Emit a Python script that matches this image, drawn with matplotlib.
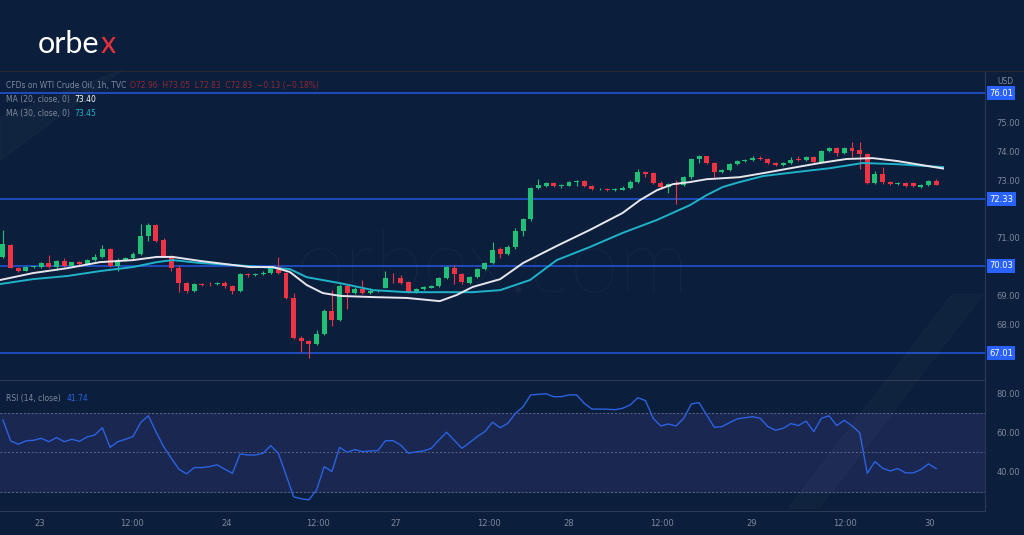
import numpy as np
import matplotlib.pyplot as plt
from matplotlib.patches import Polygon

# hourly WTI candles
opens = [70.34, 70.75, 69.96, 69.87, 69.99, 70.00, 70.13, 70.00, 70.20, 70.04, 70.15, 70.08, 70.23, 70.34, 70.61,
         70.02, 70.23, 70.30, 70.44, 71.06, 71.44, 70.92, 70.37, 69.96, 69.44, 69.16, 69.40, 69.42, 69.39, 69.45,
         69.33, 69.17, 69.75, 69.70, 69.75, 69.79, 69.99, 69.79, 68.92, 67.53, 67.43, 67.33, 67.67, 68.47, 68.16,
         69.33, 69.09, 69.23, 69.10, 69.15, 69.28, 69.61, 69.61, 69.47, 69.13, 69.23, 69.27, 69.33, 69.61, 69.96,
         69.75, 69.45, 69.64, 69.92, 70.12, 70.61, 70.44, 70.68, 71.24, 71.65, 72.72, 72.79, 72.90, 72.80, 72.80,
         72.93, 72.97, 72.80, 72.68, 72.69, 72.67, 72.67, 72.74, 72.93, 73.27, 73.24, 72.90, 72.76, 72.88, 72.83,
         73.10, 73.72, 73.82, 73.59, 73.28, 73.34, 73.55, 73.66, 73.70, 73.77, 73.72, 73.60, 73.53, 73.60, 73.72,
         73.68, 73.80, 73.64, 74.00, 74.10, 73.93, 74.10, 74.04, 73.90, 72.90, 73.21, 72.93, 72.86, 72.90, 72.90,
         72.76, 72.83, 72.96]
closes = [70.79, 69.96, 69.85, 69.99, 70.00, 70.13, 70.00, 70.20, 70.04, 70.15, 70.08, 70.23, 70.34, 70.61, 70.02,
          70.23, 70.30, 70.44, 71.06, 71.44, 70.89, 70.37, 69.96, 69.44, 69.16, 69.40, 69.38, 69.39, 69.45, 69.33,
          69.17, 69.75, 69.70, 69.75, 69.79, 69.99, 69.79, 68.92, 67.53, 67.43, 67.33, 67.67, 68.47, 68.16, 69.33,
          69.09, 69.23, 69.10, 69.15, 69.16, 69.61, 69.60, 69.43, 69.13, 69.23, 69.30, 69.33, 69.61, 69.99, 69.75,
          69.47, 69.64, 69.92, 70.12, 70.58, 70.44, 70.68, 71.24, 71.65, 72.72, 72.82, 72.90, 72.80, 72.83, 72.93,
          72.97, 72.80, 72.68, 72.68, 72.66, 72.67, 72.74, 72.93, 73.27, 73.20, 72.90, 72.76, 72.86, 72.83, 73.10,
          73.72, 73.82, 73.59, 73.28, 73.34, 73.55, 73.66, 73.70, 73.77, 73.72, 73.60, 73.53, 73.60, 73.70, 73.68,
          73.80, 73.64, 74.00, 74.10, 73.93, 74.10, 74.00, 73.90, 72.90, 73.21, 72.93, 72.86, 72.90, 72.80, 72.80,
          72.83, 72.96, 72.83]
highs = [71.27, 70.80, 69.98, 70.02, 70.04, 70.17, 70.40, 70.22, 70.30, 70.18, 70.20, 70.26, 70.45, 70.75, 70.64,
         70.30, 70.35, 70.50, 71.48, 71.52, 71.48, 71.00, 70.40, 70.05, 69.48, 69.45, 69.43, 69.46, 69.48, 69.49,
         69.36, 69.78, 69.80, 69.78, 69.84, 70.03, 70.33, 69.82, 69.10, 67.60, 67.48, 67.82, 68.55, 69.20, 69.40,
         69.40, 69.30, 69.55, 69.25, 69.20, 69.85, 69.80, 69.72, 69.50, 69.27, 69.33, 69.36, 69.65, 70.04, 70.05,
         69.80, 69.68, 69.96, 70.18, 70.85, 70.70, 70.75, 71.35, 71.70, 72.76, 73.05, 72.95, 72.93, 72.86, 72.96,
         73.00, 73.00, 72.83, 72.72, 72.72, 72.72, 72.79, 73.01, 73.40, 73.33, 73.28, 72.98, 72.90, 73.00, 73.14,
         73.76, 73.86, 73.85, 73.62, 73.37, 73.60, 73.70, 73.73, 73.85, 73.85, 73.75, 73.63, 73.64, 73.80, 73.85,
         73.85, 73.83, 74.03, 74.14, 74.13, 74.13, 74.32, 74.32, 73.95, 73.30, 73.45, 72.96, 72.93, 72.93, 72.93,
         72.86, 72.99, 73.05]
lows = [70.30, 69.96, 69.82, 69.85, 69.96, 69.97, 69.97, 69.90, 70.00, 70.01, 70.05, 70.05, 70.20, 70.30, 69.98,
        69.85, 70.20, 70.27, 70.40, 70.90, 70.85, 70.33, 69.85, 69.12, 69.10, 69.12, 69.35, 69.33, 69.36, 69.25,
        69.05, 69.14, 69.65, 69.68, 69.72, 69.76, 69.76, 68.88, 67.50, 67.05, 66.85, 67.30, 67.64, 67.95, 68.12,
        68.55, 69.05, 69.05, 69.05, 69.12, 69.25, 69.45, 69.40, 69.10, 69.10, 69.20, 69.25, 69.30, 69.58, 69.40,
        69.42, 69.42, 69.60, 69.88, 70.08, 70.30, 70.40, 70.60, 71.05, 71.60, 72.70, 72.75, 72.77, 72.72, 72.78,
        72.80, 72.77, 72.64, 72.64, 72.63, 72.63, 72.64, 72.70, 72.90, 73.12, 72.87, 72.70, 72.55, 72.17, 72.80,
        73.05, 73.60, 73.55, 73.10, 73.25, 73.30, 73.52, 73.63, 73.66, 73.69, 73.57, 73.50, 73.50, 73.57, 73.65,
        73.65, 73.60, 73.60, 73.97, 73.85, 73.90, 73.80, 73.40, 72.85, 72.85, 72.86, 72.82, 72.83, 72.77, 72.77,
        72.73, 72.80, 72.83]

ma20_x = [-0.4, 3.9, 8.4, 12.7, 17.0, 20.1, 22.2, 25.8, 30.1, 32.3, 35.3, 37.5, 39.7, 41.8, 44.1, 48.4, 52.8, 57.1,
          59.3, 61.4, 65.0, 68.0, 72.4, 76.7, 81.0, 83.3, 85.5, 87.6, 89.8, 92.0, 96.3, 99.4, 103.8, 106.8, 110.3,
          113.7, 116.9, 122.9]
ma20 = [69.54, 69.78, 69.95, 70.16, 70.23, 70.34, 70.34, 70.20, 70.06, 69.99, 69.99, 69.82, 69.37, 69.09, 68.99,
        68.95, 68.92, 68.81, 69.02, 69.30, 69.57, 70.13, 70.72, 71.27, 71.86, 72.31, 72.65, 72.86, 72.93, 73.03,
        73.10, 73.24, 73.45, 73.59, 73.73, 73.76, 73.66, 73.40]
ma30_x = [-0.4, 3.9, 8.4, 12.7, 17.0, 20.1, 22.2, 25.8, 30.1, 32.3, 37.5, 39.7, 44.1, 48.4, 52.8, 57.1, 61.4, 65.0,
          68.9, 72.4, 76.7, 81.0, 85.5, 89.8, 92.0, 94.1, 96.3, 99.4, 103.8, 108.1, 112.4, 116.9, 122.9]
ma30 = [69.40, 69.57, 69.68, 69.85, 69.99, 70.16, 70.23, 70.13, 70.06, 70.02, 69.92, 69.64, 69.43, 69.19, 69.12,
        69.12, 69.12, 69.19, 69.54, 70.23, 70.68, 71.17, 71.62, 72.13, 72.48, 72.76, 72.93, 73.14, 73.28, 73.41,
        73.59, 73.55, 73.45]

rsi = [66.4, 55.8, 54.1, 55.8, 56.1, 57.1, 55.4, 57.5, 55.4, 56.6, 55.6, 57.8, 58.8, 62.5, 52.5, 55.4, 56.6, 58.0,
       65.1, 68.6, 60.5, 52.9, 47.0, 41.4, 39.0, 42.2, 42.2, 42.7, 43.6, 41.4, 39.3, 49.2, 48.6, 48.6, 49.5, 53.4,
       49.5, 38.5, 27.3, 26.3, 25.8, 30.8, 42.7, 40.2, 52.5, 50.0, 51.4, 50.3, 50.7, 50.8, 55.9, 55.9, 53.7, 49.5,
       50.2, 50.7, 52.0, 56.3, 60.2, 56.1, 52.0, 54.9, 58.0, 60.5, 65.3,
       62.5, 64.7, 69.8, 73.2, 79.2, 79.5, 79.8, 78.3, 78.3, 79.2, 79.2, 74.9, 72.0, 72.0, 71.9, 71.7, 72.4, 74.1,
       77.8, 76.3, 67.3, 63.4, 64.4, 63.4, 67.3, 74.6, 75.3, 69.0, 62.7, 63.1, 65.1, 67.0, 67.6, 68.1, 67.3, 63.1,
       61.2, 62.2, 64.6, 63.6, 65.9, 60.5, 67.3, 68.6, 63.6, 66.3, 63.4, 60.0, 39.3, 45.3, 41.9, 40.5, 41.7, 39.5,
       39.5, 41.2, 44.1, 41.7]

levels = [76.01, 72.33, 70.03, 67.01]
price_ticks = [75, 74, 73, 71, 69, 68]
date_pos = [4.8, 16.9, 29.2, 41.2, 51.4, 63.5, 73.9, 86.1, 97.9, 110.1, 121.2]
date_labels = ["23", "12:00", "24", "12:00", "27", "12:00", "28", "12:00", "29", "12:00", "30"]

BG = "#0b1e3b"
GREEN = "#22bf77"
RED = "#ef3343"
LINE = "#2458e0"
TXT = "#7d889c"

fig = plt.figure(figsize=(10.24, 5.35), dpi=100, facecolor=BG)
ax = fig.add_axes([0, 0.2897, 0.962, 0.5757], facecolor=BG)
ax2 = fig.add_axes([0, 0.0449, 0.962, 0.2448], facecolor=BG)
xlim = (-0.39, 128.4)

# decorative faint stripes
fig.patches.append(Polygon([[0.77, 0.05], [0.80, 0.05], [0.96, 0.45], [0.93, 0.45]], closed=True,
                           transform=fig.transFigure, color="white", alpha=0.02, zorder=0))
fig.patches.append(Polygon([[0.0, 0.78], [0.0, 0.70], [0.12, 0.87]], closed=True,
                           transform=fig.transFigure, color="white", alpha=0.025, zorder=0))

x = np.arange(len(closes))
for i in x:
    o, c = opens[i], closes[i]
    col = GREEN if c >= o else RED
    ax.vlines(i, lows[i], highs[i], color=col, lw=0.8, zorder=3)
    bot, h = min(o, c), max(abs(c - o), 0.025)
    ax.bar(i, h, bottom=bot, width=0.65, color=col, zorder=4)

ax.plot(ma30_x, ma30, color="#1fb2c9", lw=1.4, zorder=5)
ax.plot(ma20_x, ma20, color="#e6e6ec", lw=1.4, zorder=5)

for lv in levels:
    ax.axhline(lv, color=LINE, lw=1.1, zorder=2)
    ax.text(1.004, lv, f"{lv:.2f}", transform=ax.get_yaxis_transform(), ha="left", va="center",
            fontsize=6, color="white", clip_on=False,
            bbox=dict(boxstyle="square,pad=0.3", fc="#2962ff", ec="none"))

ax.set_xlim(*xlim)
ax.set_ylim(66.08, 76.74)
ax.yaxis.tick_right()
ax.set_yticks(price_ticks)
ax.set_yticklabels([f"{t:.2f}" for t in price_ticks])
ax.tick_params(axis="y", length=0, labelsize=6, labelcolor=TXT, pad=8)
ax.set_xticks([])
for s in ["top", "left", "bottom"]:
    ax.spines[s].set_visible(False)
ax.spines["right"].set_color("#2a3a55")
ax.text(0.5, 0.36, "orbex.com", transform=ax.transAxes, ha="center", va="center", fontsize=64,
        color="white", alpha=0.045, zorder=1, family="Lato", fontweight="light")
ax.text(1.012, 0.985, "USD", transform=ax.transAxes, fontsize=5.5, color=TXT, va="top")

# legend lines
ax.text(0.006, 0.97, "CFDs on WTI Crude Oil, 1h, TVC", transform=ax.transAxes, fontsize=5.5, color=TXT, va="top")
ax.text(0.132, 0.97, "O72.96  H73.05  L72.83  C72.83  −0.13 (−0.18%)", transform=ax.transAxes,
        fontsize=5.5, color="#8c2a33", va="top")
ax.text(0.006, 0.925, "MA (20, close, 0)", transform=ax.transAxes, fontsize=5.5, color=TXT, va="top")
ax.text(0.075, 0.925, "73.40", transform=ax.transAxes, fontsize=5.5, color="white", va="top")
ax.text(0.006, 0.88, "MA (30, close, 0)", transform=ax.transAxes, fontsize=5.5, color=TXT, va="top")
ax.text(0.075, 0.88, "73.45", transform=ax.transAxes, fontsize=5.5, color="#1fb2c9", va="top")

# RSI pane
ax2.axhspan(30, 70, color="#1a2751", zorder=1)
for lv in [70, 50, 30]:
    ax2.axhline(lv, color="#5d6880", lw=0.7, ls=(0, (2, 2)), zorder=2)
ax2.plot(x, rsi, color="#2b62e0", lw=1.0, zorder=3)
ax2.set_xlim(*xlim)
ax2.set_ylim(20.1, 86.8)
ax2.yaxis.tick_right()
ax2.set_yticks([80, 60, 40])
ax2.set_yticklabels(["80.00", "60.00", "40.00"])
ax2.tick_params(axis="y", length=0, labelsize=6, labelcolor=TXT, pad=8)
ax2.set_xticks(date_pos)
ax2.set_xticklabels(date_labels)
ax2.tick_params(axis="x", length=0, labelsize=6, labelcolor=TXT, pad=6)
ax2.spines["top"].set_color("#2a3a55")
ax2.spines["bottom"].set_color("#2a3a55")
ax2.spines["right"].set_color("#2a3a55")
ax2.spines["left"].set_visible(False)
ax2.text(0.006, 0.86, "RSI (14, close)", transform=ax2.transAxes, fontsize=5.5, color=TXT, va="center")
ax2.text(0.068, 0.86, "41.74", transform=ax2.transAxes, fontsize=5.5, color="#2b62e0", va="center")

# header
fig.add_artist(plt.Line2D([0, 1], [1 - 71 / 535] * 2, color="#2a2630", lw=0.8))
fig.text(0.037, 0.918, "orbe", fontsize=22, color="white", va="center", family="Lato")
fig.text(0.0985, 0.918, "x", fontsize=22, color="#e8303d", va="center", family="Lato")

fig.savefig("out.png", dpi=100, facecolor=BG)
